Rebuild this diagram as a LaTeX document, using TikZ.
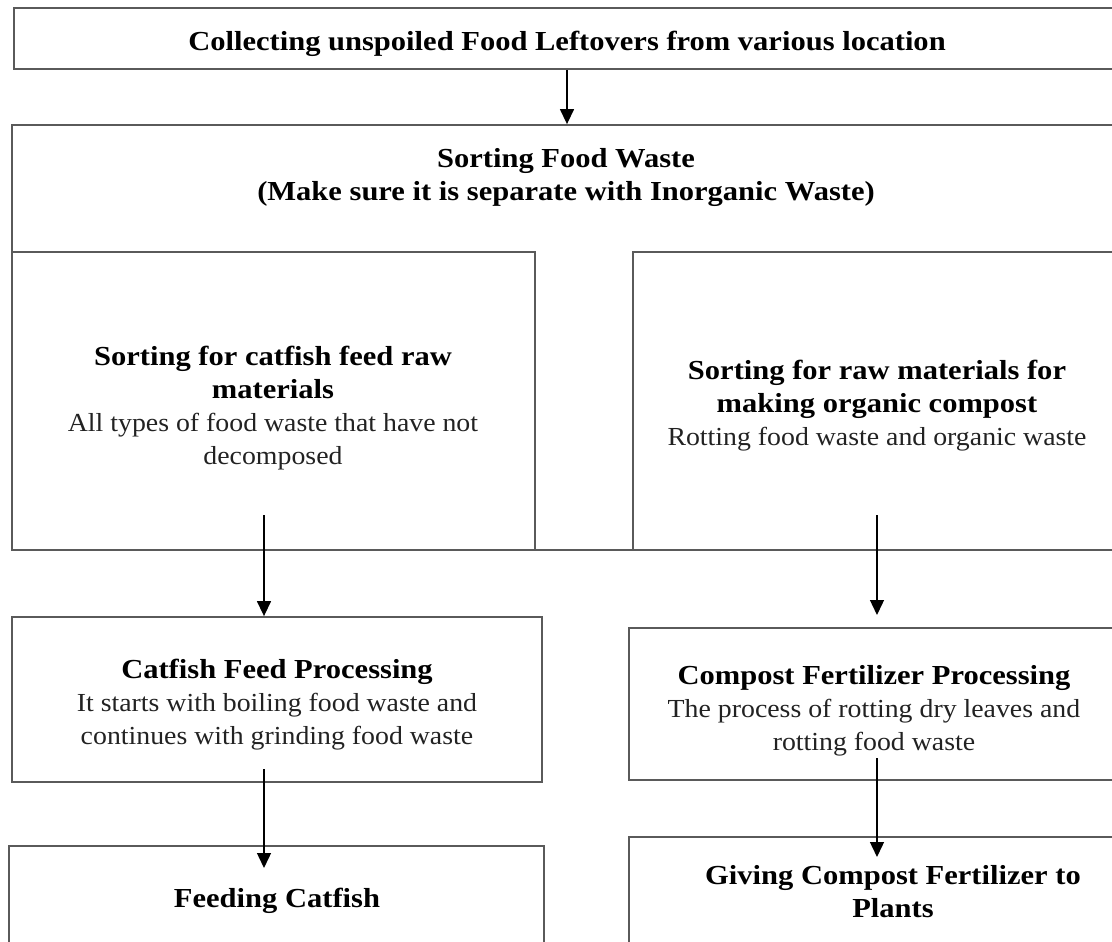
\documentclass[tikz,border=0pt]{standalone}
\usepackage{fontspec}
\setmainfont{Liberation Serif}[FakeStretch=1.07, BoldFeatures={FakeStretch=1.11}]
\usetikzlibrary{arrows.meta}
\definecolor{linegray}{HTML}{5A5A5A}
\definecolor{txtgray}{HTML}{222222}
\newcommand{\hbf}{\fontsize{27.5}{33}\selectfont\bfseries\color{black}}
\begin{document}
\begin{tikzpicture}[x=1pt,y=-1pt,
  box/.style={draw=linegray, line width=1.8pt, inner sep=0pt},
  arr/.style={draw=black, line width=1.4pt, -{Triangle[width=14pt,length=15pt]}},
  txt/.style={font=\fontsize{26}{33}\selectfont, align=center, inner sep=0pt, text=txtgray},
  hd/.style={txt, font=\fontsize{27.5}{33}\selectfont\bfseries, text=black}]
\useasboundingbox (0,0) rectangle (1112,942);
\clip (0,0) rectangle (1112,942);
% boxes
\node[box, minimum width=1106pt, minimum height=61pt] (top) at (567,38.5) {};
\node[box, minimum width=1108pt, minimum height=425pt] (sortbox) at (566,337.5) {};
\node[box, minimum width=523pt, minimum height=298pt] (leftsub) at (273.5,401) {};
\node[box, minimum width=488pt, minimum height=298pt] (rightsub) at (877,401) {};
\node[box, minimum width=530pt, minimum height=165pt] (cfp) at (277,699.5) {};
\node[box, minimum width=491pt, minimum height=152pt] (comp) at (874.5,704) {};
\node[box, minimum width=535pt, minimum height=154pt] (feed) at (276.5,923) {};
\node[box, minimum width=528pt, minimum height=163pt] (give) at (893,918.5) {};
% texts
\node[hd] (toptxt) at (567,44) {Collecting unspoiled Food Leftovers from various location};
\node[hd] (sorttxt) at (566,177) {Sorting Food Waste\\(Make sure it is separate with Inorganic Waste)};
\node[txt] (lefttxt) at (273,408) {{\hbf Sorting for catfish feed raw}\\{\hbf materials}\\All types of food waste that have not\\decomposed};
\node[txt] (righttxt) at (877,406) {{\hbf Sorting for raw materials for}\\{\hbf making organic compost}\\Rotting food waste and organic waste};
\node[txt] (cfptxt) at (277,705) {{\hbf Catfish Feed Processing}\\It starts with boiling food waste and\\continues with grinding food waste};
\node[txt] (comptxt) at (874,711) {{\hbf Compost Fertilizer Processing}\\The process of rotting dry leaves and\\rotting food waste};
\node[hd] (feedtxt) at (277,901) {Feeding Catfish};
\node[hd] (givetxt) at (893,892) {Giving Compost Fertilizer to\\Plants};
% arrow coordinates
\coordinate (l1) at (264,515);
\coordinate (r1) at (877,515);
\coordinate (r2) at (877,615);
\coordinate (l2) at (264,769);
\coordinate (l3) at (264,868);
\coordinate (r3) at (877,758);
\coordinate (r4) at (877,857);
% arrows
\draw[arr] (top.south) -- (top.south |- sortbox.north);
\draw[arr] (l1) -- (l1 |- cfp.north);
\draw[arr] (r1) -- (r2);
\draw[arr] (l2) -- (l3);
\draw[arr] (r3) -- (r4);
\end{tikzpicture}
\end{document}
